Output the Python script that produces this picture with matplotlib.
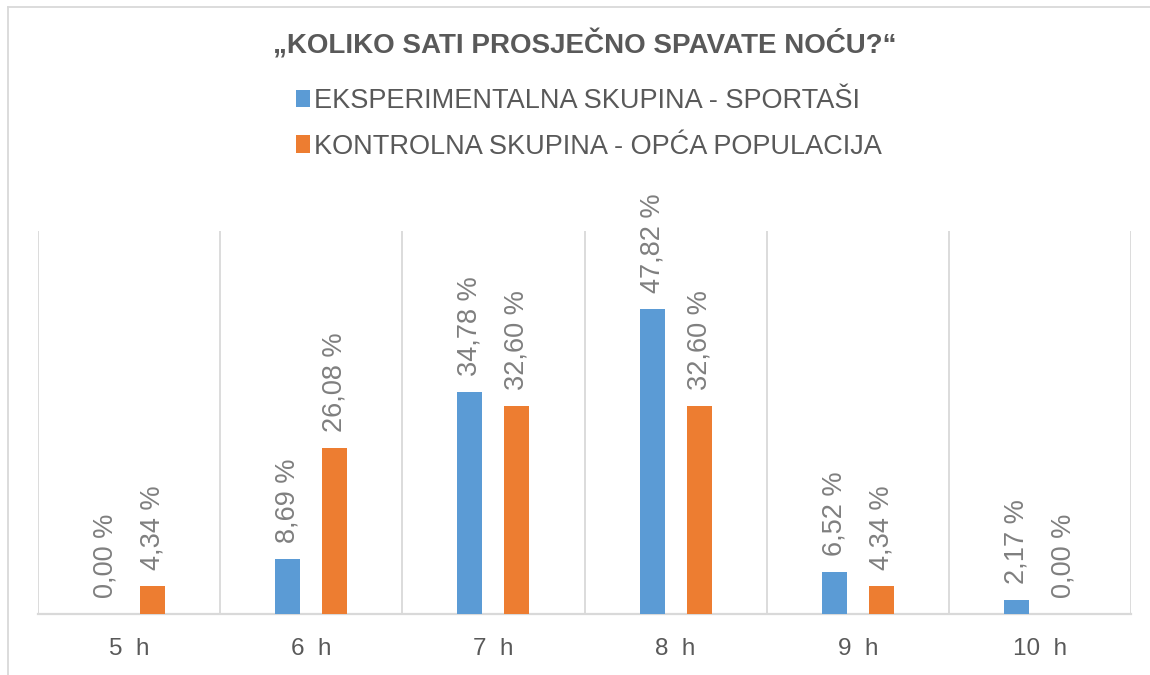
import numpy as np
import matplotlib
matplotlib.use('Agg')
import matplotlib.pyplot as plt
from matplotlib.patches import Patch
from matplotlib.lines import Line2D

plt.rcParams['font.family'] = ['Liberation Sans', 'DejaVu Sans']

# Data
categories = ['5  h', '6  h', '7  h', '8  h', '9  h', '10  h']
sportasi = [0.00, 8.69, 34.78, 47.82, 6.52, 2.17]
opca_populacija = [4.34, 26.08, 32.60, 32.60, 4.34, 0.00]
series_names = ['EKSPERIMENTALNA SKUPINA - SPORTAŠI',
                'KONTROLNA SKUPINA - OPĆA POPULACIJA']
title = '„KOLIKO SATI PROSJEČNO SPAVATE NOĆU?“'

blue = '#5B9BD5'
orange = '#ED7D31'
grid_col = '#D9D9D9'

W, H = 1150, 675
fig = plt.figure(figsize=(W / 100, H / 100), dpi=100)

# Plot area in pixel coordinates
left, right, top, bottom = 38, 1131, 231, 614
ax = fig.add_axes([left / W, 1 - bottom / H, (right - left) / W, (bottom - top) / H])

x = np.arange(len(categories))
width = 0.137
offset = 0.129
b1 = ax.bar(x - offset, sportasi, width, color=blue, zorder=3)
b2 = ax.bar(x + offset, opca_populacija, width, color=orange, zorder=3)

for bars, vals in ((b1, sportasi), (b2, opca_populacija)):
    for rect, v in zip(bars, vals):
        ax.annotate(f'{v:.2f} %'.replace('.', ','),
                    (rect.get_x() + rect.get_width() / 2, v),
                    xytext=(0, 11.5), textcoords='offset points',
                    rotation=90, ha='center', va='bottom',
                    fontsize=19.5, color='#7F7F7F')

ax.set_xlim(-0.5, len(categories) - 0.5)
ax.set_ylim(0, 60)

# vertical separators between categories
for b in np.arange(-0.5, len(categories), 1.0):
    ax.axvline(b, color=grid_col, lw=1.3, zorder=1)

for s in ['top', 'right', 'left']:
    ax.spines[s].set_visible(False)
ax.spines['bottom'].set_color(grid_col)
ax.spines['bottom'].set_linewidth(1.6)

ax.set_yticks([])
ax.set_xticks(x)
ax.set_xticklabels(categories, fontsize=17.5, color='#595959')
ax.tick_params(axis='x', length=0, pad=17)

fig.text(585 / W, 1 - 45 / H, title, ha='center', va='center',
         fontsize=20, fontweight='bold', color='#595959')

handles = [Patch(facecolor=blue), Patch(facecolor=orange)]
fig.legend(handles, series_names, loc='upper left',
           bbox_to_anchor=(296 / W, 1 - 88 / H), frameon=False,
           fontsize=19.5, labelcolor='#595959', handlelength=0.5,
           handleheight=0.6, handletextpad=0.15, labelspacing=0.72,
           borderpad=0, borderaxespad=0)

# outer chart frame (top and left edges)
fig.add_artist(Line2D([8 / W, 1], [1 - 7 / H, 1 - 7 / H], color=grid_col, lw=1.3))
fig.add_artist(Line2D([8 / W, 8 / W], [0, 1 - 7 / H], color=grid_col, lw=1.3))

fig.savefig('out.png', dpi=100)
